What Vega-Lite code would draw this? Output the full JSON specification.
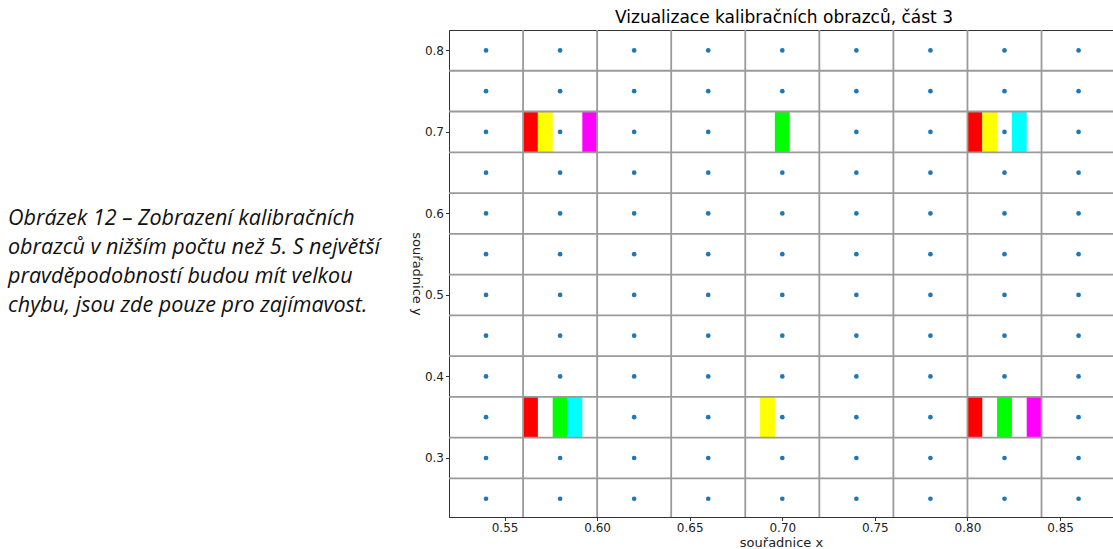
{
  "$schema": "https://vega.github.io/schema/vega-lite/v6.json",
  "background": "white",
  "padding": {"left": 8, "top": 8, "right": 0, "bottom": 0},
  "spacing": 41,
  "bounds": "flush",
  "config": {
    "font": "DejaVu Sans",
    "axis": {"labelFont": "DejaVu Sans", "titleFont": "DejaVu Sans", "labelFontSize": 12, "titleFontSize": 13, "titleFontWeight": "normal", "labelColor": "#222", "titleColor": "#222", "tickColor": "#333", "domainColor": "#333", "tickSize": 3.5, "labelPadding": 2, "grid": false}
  },
  "hconcat": [
    {
      "width": 400,
      "height": 487,
      "view": {"stroke": null},
      "data": {"values": [
        {"line": 1, "text": "Obrázek 12 – Zobrazení kalibračních"},
        {"line": 2, "text": "obrazců v nižším počtu než 5. S největší"},
        {"line": 3, "text": "pravděpodobností budou mít velkou"},
        {"line": 4, "text": "chybu, jsou zde pouze pro zajímavost."}
      ]},
      "mark": {"type": "text", "align": "left", "baseline": "alphabetic", "font": "Open Sans", "fontStyle": "italic", "fontSize": 21.5, "color": "#111"},
      "encoding": {
        "x": {"value": 0},
        "y": {"field": "line", "type": "ordinal", "scale": {"type": "point", "domain": [1, 2, 3, 4], "padding": 0, "range": [195, 282]}, "axis": null},
        "text": {"field": "text"}
      }
    },
    {
      "width": 664,
      "height": 487,
      "view": {"stroke": "#333", "strokeWidth": 1},
      "title": {"text": "Vizualizace kalibračních obrazců, část 3", "font": "DejaVu Sans", "fontSize": 17, "fontWeight": "normal", "color": "#000", "anchor": "middle", "dx": 3, "offset": 2},
      "layer": [
        {
          "data": {"values": [
            {"px": 0.54, "py": 0.25}, {"px": 0.54, "py": 0.3}, {"px": 0.54, "py": 0.35}, {"px": 0.54, "py": 0.4}, {"px": 0.54, "py": 0.45}, {"px": 0.54, "py": 0.5}, {"px": 0.54, "py": 0.55}, {"px": 0.54, "py": 0.6}, {"px": 0.54, "py": 0.65}, {"px": 0.54, "py": 0.7}, {"px": 0.54, "py": 0.75}, {"px": 0.54, "py": 0.8},
            {"px": 0.58, "py": 0.25}, {"px": 0.58, "py": 0.3}, {"px": 0.58, "py": 0.35}, {"px": 0.58, "py": 0.4}, {"px": 0.58, "py": 0.45}, {"px": 0.58, "py": 0.5}, {"px": 0.58, "py": 0.55}, {"px": 0.58, "py": 0.6}, {"px": 0.58, "py": 0.65}, {"px": 0.58, "py": 0.7}, {"px": 0.58, "py": 0.75}, {"px": 0.58, "py": 0.8},
            {"px": 0.62, "py": 0.25}, {"px": 0.62, "py": 0.3}, {"px": 0.62, "py": 0.35}, {"px": 0.62, "py": 0.4}, {"px": 0.62, "py": 0.45}, {"px": 0.62, "py": 0.5}, {"px": 0.62, "py": 0.55}, {"px": 0.62, "py": 0.6}, {"px": 0.62, "py": 0.65}, {"px": 0.62, "py": 0.7}, {"px": 0.62, "py": 0.75}, {"px": 0.62, "py": 0.8},
            {"px": 0.66, "py": 0.25}, {"px": 0.66, "py": 0.3}, {"px": 0.66, "py": 0.35}, {"px": 0.66, "py": 0.4}, {"px": 0.66, "py": 0.45}, {"px": 0.66, "py": 0.5}, {"px": 0.66, "py": 0.55}, {"px": 0.66, "py": 0.6}, {"px": 0.66, "py": 0.65}, {"px": 0.66, "py": 0.7}, {"px": 0.66, "py": 0.75}, {"px": 0.66, "py": 0.8},
            {"px": 0.7, "py": 0.25}, {"px": 0.7, "py": 0.3}, {"px": 0.7, "py": 0.35}, {"px": 0.7, "py": 0.4}, {"px": 0.7, "py": 0.45}, {"px": 0.7, "py": 0.5}, {"px": 0.7, "py": 0.55}, {"px": 0.7, "py": 0.6}, {"px": 0.7, "py": 0.65}, {"px": 0.7, "py": 0.7}, {"px": 0.7, "py": 0.75}, {"px": 0.7, "py": 0.8},
            {"px": 0.74, "py": 0.25}, {"px": 0.74, "py": 0.3}, {"px": 0.74, "py": 0.35}, {"px": 0.74, "py": 0.4}, {"px": 0.74, "py": 0.45}, {"px": 0.74, "py": 0.5}, {"px": 0.74, "py": 0.55}, {"px": 0.74, "py": 0.6}, {"px": 0.74, "py": 0.65}, {"px": 0.74, "py": 0.7}, {"px": 0.74, "py": 0.75}, {"px": 0.74, "py": 0.8},
            {"px": 0.78, "py": 0.25}, {"px": 0.78, "py": 0.3}, {"px": 0.78, "py": 0.35}, {"px": 0.78, "py": 0.4}, {"px": 0.78, "py": 0.45}, {"px": 0.78, "py": 0.5}, {"px": 0.78, "py": 0.55}, {"px": 0.78, "py": 0.6}, {"px": 0.78, "py": 0.65}, {"px": 0.78, "py": 0.7}, {"px": 0.78, "py": 0.75}, {"px": 0.78, "py": 0.8},
            {"px": 0.82, "py": 0.25}, {"px": 0.82, "py": 0.3}, {"px": 0.82, "py": 0.35}, {"px": 0.82, "py": 0.4}, {"px": 0.82, "py": 0.45}, {"px": 0.82, "py": 0.5}, {"px": 0.82, "py": 0.55}, {"px": 0.82, "py": 0.6}, {"px": 0.82, "py": 0.65}, {"px": 0.82, "py": 0.7}, {"px": 0.82, "py": 0.75}, {"px": 0.82, "py": 0.8},
            {"px": 0.86, "py": 0.25}, {"px": 0.86, "py": 0.3}, {"px": 0.86, "py": 0.35}, {"px": 0.86, "py": 0.4}, {"px": 0.86, "py": 0.45}, {"px": 0.86, "py": 0.5}, {"px": 0.86, "py": 0.55}, {"px": 0.86, "py": 0.6}, {"px": 0.86, "py": 0.65}, {"px": 0.86, "py": 0.7}, {"px": 0.86, "py": 0.75}, {"px": 0.86, "py": 0.8}
          ]},
          "mark": {"type": "point", "filled": true, "size": 22, "color": "#1f77b4", "opacity": 1},
          "encoding": {
            "x": {"field": "px", "type": "quantitative", "scale": {"domain": [0.52, 0.8786], "nice": false, "zero": false}, "axis": {"title": "souřadnice x", "values": [0.55, 0.6, 0.65, 0.7, 0.75, 0.8, 0.85], "format": ".2f", "titlePadding": 3}},
            "y": {"field": "py", "type": "quantitative", "scale": {"domain": [0.2276, 0.825], "nice": false, "zero": false}, "axis": {"title": "souřadnice y", "titleAngle": 90, "values": [0.3, 0.4, 0.5, 0.6, 0.7, 0.8], "format": ".1f", "titlePadding": 15}}
          }
        },
        {
          "data": {"values": [
            {"x": 0.56, "x2": 0.568, "y": 0.675, "y2": 0.725, "c": "red"},
            {"x": 0.568, "x2": 0.576, "y": 0.675, "y2": 0.725, "c": "yellow"},
            {"x": 0.592, "x2": 0.6, "y": 0.675, "y2": 0.725, "c": "magenta"},
            {"x": 0.696, "x2": 0.704, "y": 0.675, "y2": 0.725, "c": "green"},
            {"x": 0.8, "x2": 0.808, "y": 0.675, "y2": 0.725, "c": "red"},
            {"x": 0.808, "x2": 0.816, "y": 0.675, "y2": 0.725, "c": "yellow"},
            {"x": 0.824, "x2": 0.832, "y": 0.675, "y2": 0.725, "c": "cyan"},
            {"x": 0.56, "x2": 0.568, "y": 0.325, "y2": 0.375, "c": "red"},
            {"x": 0.576, "x2": 0.584, "y": 0.325, "y2": 0.375, "c": "green"},
            {"x": 0.584, "x2": 0.592, "y": 0.325, "y2": 0.375, "c": "cyan"},
            {"x": 0.688, "x2": 0.696, "y": 0.325, "y2": 0.375, "c": "yellow"},
            {"x": 0.8, "x2": 0.808, "y": 0.325, "y2": 0.375, "c": "red"},
            {"x": 0.816, "x2": 0.824, "y": 0.325, "y2": 0.375, "c": "green"},
            {"x": 0.832, "x2": 0.84, "y": 0.325, "y2": 0.375, "c": "magenta"}
          ]},
          "mark": {"type": "rect"},
          "encoding": {
            "x": {"field": "x", "type": "quantitative"},
            "x2": {"field": "x2"},
            "y": {"field": "y", "type": "quantitative"},
            "y2": {"field": "y2"},
            "color": {"field": "c", "type": "nominal", "scale": {"domain": ["red", "yellow", "green", "cyan", "magenta"], "range": ["#ff0000", "#ffff00", "#00ff00", "#00ffff", "#ff00ff"]}, "legend": null}
          }
        },
        {
          "data": {"values": [{"gx": 0.56}, {"gx": 0.6}, {"gx": 0.64}, {"gx": 0.68}, {"gx": 0.72}, {"gx": 0.76}, {"gx": 0.8}, {"gx": 0.84}]},
          "mark": {"type": "rule", "color": "#9a9a9a", "strokeWidth": 1.8},
          "encoding": {"x": {"field": "gx", "type": "quantitative"}}
        },
        {
          "data": {"values": [{"gy": 0.275}, {"gy": 0.325}, {"gy": 0.375}, {"gy": 0.425}, {"gy": 0.475}, {"gy": 0.525}, {"gy": 0.575}, {"gy": 0.625}, {"gy": 0.675}, {"gy": 0.725}, {"gy": 0.775}]},
          "mark": {"type": "rule", "color": "#9a9a9a", "strokeWidth": 1.8},
          "encoding": {"y": {"field": "gy", "type": "quantitative"}}
        }
      ]
    }
  ]
}
